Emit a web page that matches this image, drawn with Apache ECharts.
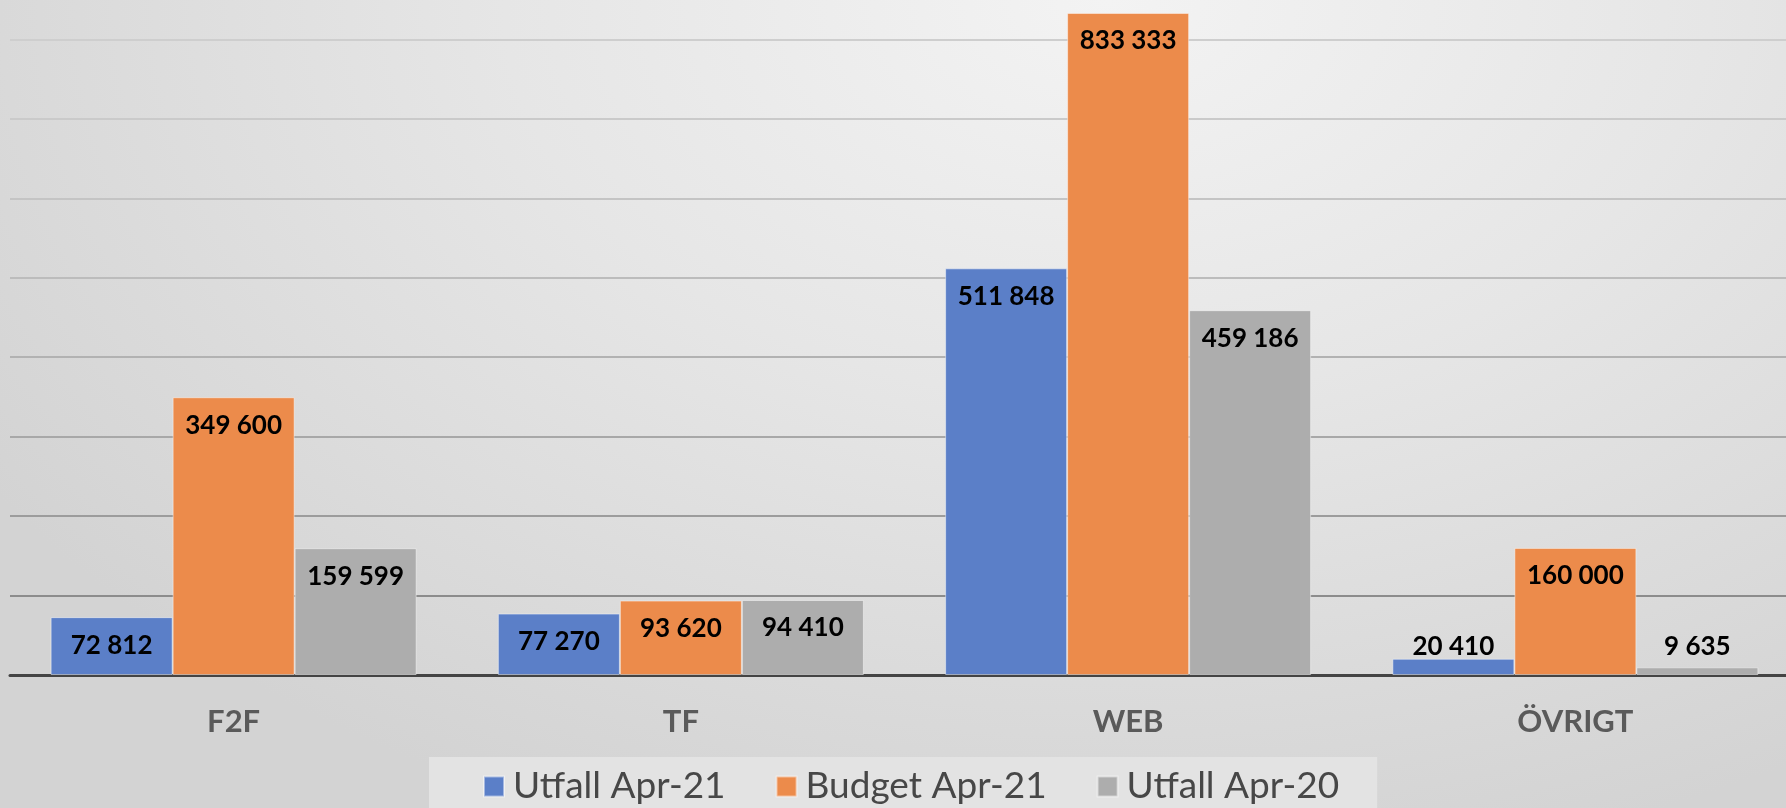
<!DOCTYPE html>
<html>
<head>
<meta charset="utf-8">
<script src="https://cdn.jsdelivr.net/npm/echarts@6/dist/echarts.min.js"></script>
<style>
  html, body { margin: 0; padding: 0; }
  #main {
    width: 1786px;
    height: 808px;
    background: radial-gradient(ellipse 75% 110% at 62% 0%, #f3f3f3 0%, #e6e6e6 45%, #d3d3d3 100%);
  }
</style>
</head>
<body>
<div id="main"></div>
<script>
// kategorier och serier
var categories = ['F2F', 'TF', 'WEB', 'ÖVRIGT'];
var seriesNames = ['Utfall Apr-21', 'Budget Apr-21', 'Utfall Apr-20'];
var utfall21 = [72812, 77270, 511848, 20410];
var budget21 = [349600, 93620, 833333, 160000];
var utfall20 = [159599, 94410, 459186, 9635];
var colors = ['#5b7fc8', '#ec8b4b', '#adadad'];

function fmt(v) {
  return String(v).replace(/\B(?=(\d{3})+(?!\d))/g, ' ');
}

function makeSeries(name, data) {
  return {
    name: name,
    type: 'bar',
    barWidth: 122,
    barGap: '0%',
    data: data,
    itemStyle: {
      borderColor: 'rgba(255,255,255,0.45)',
      borderWidth: 1
    },
    label: {
      show: true,
      position: 'insideTop',
      color: '#000',
      fontFamily: 'Lato',
      fontWeight: 'bold',
      fontSize: 26,
      formatter: function (p) { return fmt(p.value); }
    },
    // Excel-liknande: etiketten under toppen, men aldrig närmare axeln än 28px
    labelLayout: function (params) {
      var r = params.rect;
      return {
        x: r.x + r.width / 2,
        y: Math.min(r.y + 28, r.y + r.height - 28),
        align: 'center',
        verticalAlign: 'middle'
      };
    }
  };
}

var chart = echarts.init(document.getElementById('main'));

var option = {
  backgroundColor: 'transparent',
  color: colors,
  animation: false,
  grid: {
    left: 10,
    right: -13,
    top: -40,
    bottom: 133,
    outerBoundsMode: 'none'
  },
  legend: {
    data: seriesNames,
    left: 429,
    top: 757,
    padding: [11, 38, 20, 54],
    backgroundColor: '#e3e3e3',
    itemWidth: 20,
    itemHeight: 20,
    itemGap: 50,
    icon: 'rect',
    textStyle: {
      fontFamily: 'Lato',
      fontSize: 37,
      color: '#474747',
      padding: [0, 0, 0, 4]
    }
  },
  xAxis: {
    type: 'category',
    data: categories,
    axisTick: { show: false },
    axisLine: {
      lineStyle: { color: '#444', width: 3 }
    },
    axisLabel: {
      margin: 31,
      fontFamily: 'Lato',
      fontWeight: 'bold',
      fontSize: 31,
      color: '#5a5a5a'
    }
  },
  yAxis: {
    type: 'value',
    min: 0,
    max: 900000,
    interval: 100000,
    axisLabel: { show: false },
    axisLine: { show: false },
    axisTick: { show: false },
    splitLine: {
      lineStyle: {
        width: 2,
        color: ['#555', '#8c8c8c', '#9c9c9c', '#a8a8a8', '#b2b2b2', '#bcbcbc', '#c4c4c4', '#cacaca', '#cecece', '#d2d2d2']
      }
    }
  },
  series: [
    makeSeries(seriesNames[0], utfall21),
    makeSeries(seriesNames[1], budget21),
    makeSeries(seriesNames[2], utfall20)
  ]
};

chart.setOption(option);
</script>
</body>
</html>
